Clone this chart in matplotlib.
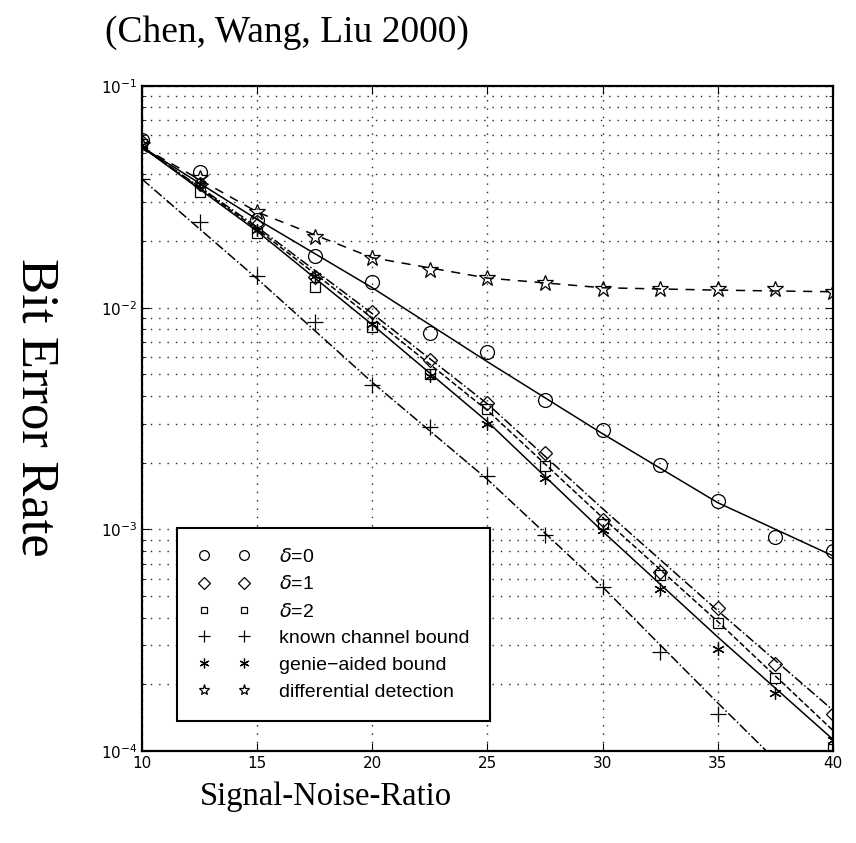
import numpy as np
import matplotlib
matplotlib.use("Agg")
import matplotlib.pyplot as plt
from matplotlib.lines import Line2D
from matplotlib.ticker import LogLocator, NullFormatter

# simulated points (markers), Eb/No in dB
snr = [10, 12.5, 15, 17.5, 20, 22.5, 25, 27.5, 30, 32.5, 35, 37.5, 40]
ber_d0 = [0.057, 0.041, 0.0249, 0.0171, 0.0131, 0.0077, 0.0063, 0.00385, 0.00282, 0.00196, 0.00134, 0.00092, 0.0008]
ber_d1 = [0.056, 0.036, 0.0235, 0.0137, 0.0096, 0.0058, 0.0037, 0.0022, 0.0011, 0.00064, 0.00044, 0.000247, 0.000147]
ber_d2 = [0.055, 0.0334, 0.0218, 0.0124, 0.0082, 0.0050, 0.0035, 0.00193, 0.00106, 0.00062, 0.00038, 0.000213, 0.000102]
ber_genie = [0.054, 0.036, 0.0225, 0.0139, 0.0084, 0.0049, 0.0030, 0.00171, 0.00099, 0.00054, 0.00029, 0.000182, 0.000112]
ber_diff = [0.054, 0.0386, 0.0269, 0.0208, 0.0167, 0.0148, 0.0136, 0.0129, 0.0122, 0.0121, 0.0121, 0.0121, 0.0118]
snr_known = [10, 12.5, 15, 17.5, 20, 22.5, 25, 27.5, 30, 32.5, 35]
ber_known = [0.038, 0.0243, 0.0139, 0.00865, 0.0045, 0.0029, 0.00174, 0.00094, 0.00055, 0.00028, 0.000147]

# analytic curves
snr_line = [10, 15, 20, 25, 30, 35, 40]
line_d0 = [0.053, 0.025, 0.0123, 0.0057, 0.0027, 0.00132, 0.00076]
line_d1 = [0.053, 0.0231, 0.0094, 0.00368, 0.00124, 0.00043, 0.000153]
line_d2 = [0.053, 0.0226, 0.00897, 0.00344, 0.00113, 0.000384, 0.000124]
line_known = [0.038, 0.0135, 0.0046, 0.00168, 0.00055, 0.000165, 0.0000506]
line_genie = [0.053, 0.0221, 0.00838, 0.00306, 0.00098, 0.000327, 0.000113]
line_diff = [0.053, 0.027, 0.0168, 0.0136, 0.0123, 0.012, 0.0118]

labels = ['$\\delta$=0', '$\\delta$=1', '$\\delta$=2', 'known channel bound',
          'genie\u2212aided bound', 'differential detection']

fig = plt.figure(figsize=(8.56, 8.43), dpi=100)
ax = fig.add_axes([0.166, 0.109, 0.807, 0.789])

lw = 1.1
ax.semilogy(snr_line, line_d0, 'k-', lw=lw)
ax.semilogy(snr_line, line_d1, 'k-.', lw=lw)
ax.semilogy(snr_line, line_d2, 'k--', lw=lw)
ax.semilogy(snr_line, line_known, 'k-.', lw=lw)
ax.semilogy(snr_line, line_genie, 'k-', lw=lw)
ax.semilogy(snr_line, line_diff, 'k--', lw=lw, dashes=(6, 5))

mk = dict(ls='none', color='k', mfc='none', mew=0.9)
ax.plot(snr, ber_d0, marker='o', ms=10, **mk)
ax.plot(snr, ber_d1, marker='D', ms=7, **mk)
ax.plot(snr, ber_d2, marker='s', ms=7, **mk)
ax.plot(snr_known, ber_known, marker='+', ms=11, **mk)
ax.plot(snr, ber_genie, marker=(6, 2, 0), ms=9, **mk)
ax.plot(snr, ber_diff, marker='*', ms=12, **mk)

ax.set_xlim(10, 40)
ax.set_ylim(1e-4, 1e-1)
ax.set_xticks([10, 15, 20, 25, 30, 35, 40])
ax.yaxis.set_minor_locator(LogLocator(base=10, subs=np.arange(2, 10)))
ax.yaxis.set_minor_formatter(NullFormatter())
dots = (0, (1, 5))
ax.grid(True, which='major', ls=dots, color='0.15', lw=1.0)
ax.grid(True, which='minor', axis='y', ls=dots, color='0.15', lw=1.0)
ax.tick_params(which='both', direction='in', top=True, right=True, labelsize=11)
ax.tick_params(which='major', length=6)
ax.tick_params(which='minor', length=3)
for s in ax.spines.values():
    s.set_linewidth(1.6)

# legend with two markers per entry, like the old matlab legend
mkrs = ['o', 'D', 's', '+', (6, 2, 0), '*']
sizes = [7, 6, 5, 8, 7, 8]
handles = [Line2D([], [], ls='none', marker=m, ms=s, color='k', mfc='none', mew=0.9)
           for m, s in zip(mkrs, sizes)]
leg = ax.legend(handles, labels, loc='lower left', bbox_to_anchor=(0.051, 0.045),
                numpoints=2, handlelength=2.7, handletextpad=1.5, labelspacing=0.47,
                borderpad=1.05, borderaxespad=0, fancybox=False, framealpha=1,
                edgecolor='k', prop={'family': 'Liberation Sans', 'size': 14})
leg.get_frame().set_linewidth(1.5)

fig.text(0.335, 0.961, '(Chen, Wang, Liu 2000)', ha='center', va='center',
         family='Liberation Serif', fontsize=27)
fig.text(0.041, 0.517, 'Bit Error Rate', ha='center', va='center', rotation=270,
         family='Liberation Serif', fontsize=38)
fig.text(0.381, 0.055, 'Signal-Noise-Ratio', ha='center', va='center',
         family='Liberation Serif', fontsize=23.5)

fig.savefig('out.png', dpi=100)
